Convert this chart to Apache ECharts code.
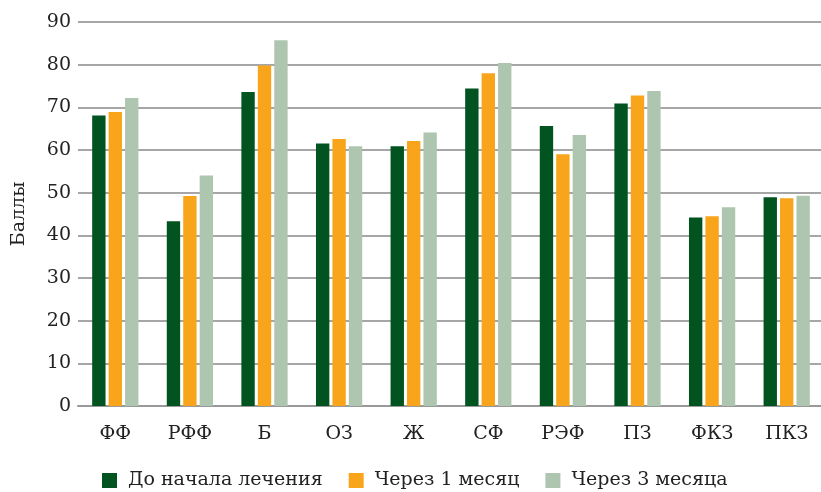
<!DOCTYPE html>
<html><head><meta charset="utf-8">
<script src="https://cdn.jsdelivr.net/npm/echarts@6/dist/echarts.min.js"></script>
<style>html,body{margin:0;padding:0;background:#fff}#c{width:821px;height:492px}</style>
</head><body><div id="c"></div>
<script>
const categories = ['ФФ','РФФ','Б','ОЗ','Ж','СФ','РЭФ','ПЗ','ФКЗ','ПКЗ'];
const seriesNames = ['До начала лечения','Через 1 месяц','Через 3 месяца'];
const before = [68.1, 43.3, 73.6, 61.5, 60.9, 74.4, 65.6, 70.9, 44.2, 48.9];
const month1 = [68.9, 49.2, 79.8, 62.6, 62.1, 78.0, 59.0, 72.8, 44.5, 48.7];
const month3 = [72.2, 54.0, 85.7, 60.9, 64.1, 80.4, 63.5, 73.8, 46.6, 49.3];
const colors = ['#01541f','#f9a51c','#aec6b0'];
const font = '"DejaVu Serif", serif';
const chart = echarts.init(document.getElementById('c'));
const mk = (name, data, i) => ({
  name, type:'bar', data, barGap:'23%', barCategoryGap:'38%',
  itemStyle:{color:colors[i]}
});
chart.setOption({
  animation:false,
  textStyle:{fontFamily:font},
  grid:{left:78, right:-3, top:22, bottom:86, containLabel:false, outerBoundsMode:'none'},
  legend:{
    data:seriesNames, left:102, top:471, padding:0, itemWidth:15, itemHeight:15, itemGap:26,
    icon:'rect', textStyle:{fontFamily:font, fontSize:19, color:'#222', padding:[0,0,0,6]}
  },
  xAxis:{
    type:'category', data:categories,
    axisLine:{lineStyle:{color:'#999', width:2}}, axisTick:{show:false},
    axisLabel:{fontFamily:font, fontSize:19, color:'#222', margin:19}
  },
  yAxis:{
    type:'value', min:0, max:90, interval:10,
    name:'Баллы', nameLocation:'middle', nameGap:49, nameRotate:90,
    nameTextStyle:{fontFamily:font, fontSize:19, color:'#222'},
    axisLine:{show:false}, axisTick:{show:false},
    axisLabel:{fontFamily:font, fontSize:19, color:'#222', margin:7},
    splitLine:{lineStyle:{color:'#a6a6a6', width:2}}
  },
  series:[mk(seriesNames[0],before,0), mk(seriesNames[1],month1,1), mk(seriesNames[2],month3,2)]
});
</script></body></html>
